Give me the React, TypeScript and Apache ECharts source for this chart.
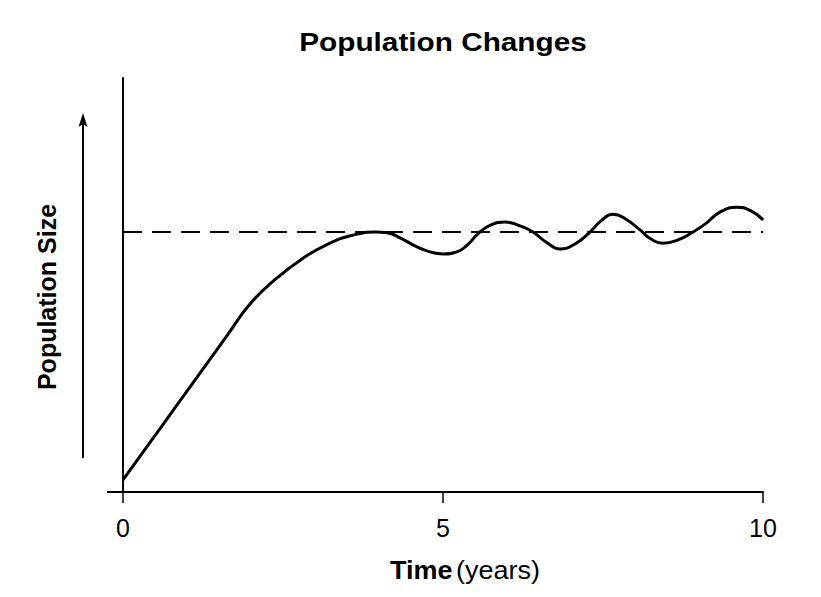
import React, { useEffect, useRef } from "react";
import * as echarts from "echarts";

const timeYears = [0, 0.406, 0.797, 1.203, 1.609, 2.0, 2.406, 2.797, 3.203, 3.609, 3.938, 4.125, 4.328, 4.594, 4.797, 5.0, 5.219, 5.375, 5.563, 5.75, 5.969, 6.203, 6.406, 6.609, 6.828, 7.063, 7.297, 7.469, 7.656, 7.859, 8.078, 8.25, 8.438, 8.672, 8.906, 9.094, 9.328, 9.594, 9.813, 10];
const populationSize = [2.9, 11.6, 20.0, 28.7, 37.4, 45.7, 51.7, 56.3, 59.9, 62.1, 62.8, 62.6, 61.4, 59.2, 58.0, 57.5, 58.0, 59.6, 62.6, 64.5, 65.2, 64.3, 62.8, 60.4, 58.7, 59.9, 62.8, 65.5, 67.1, 65.9, 63.3, 61.1, 60.1, 60.9, 62.8, 64.7, 67.6, 68.8, 67.9, 65.7];
const carryingCapacity = 62.8;
const xTicks = [0, 5, 10];

const FONT = "'Liberation Sans', Arial, Helvetica, sans-serif";

export default function App() {
  const ref = useRef<HTMLDivElement>(null);
  useEffect(() => {
    if (!ref.current) return;
    const chart = echarts.init(ref.current, null, { renderer: "svg" });
    const data = timeYears.map((t, i) => [t, populationSize[i]]);
    chart.setOption({
      animation: false,
      backgroundColor: "#fff",
      grid: { left: 123, right: 58, top: 78, bottom: 105 },
      xAxis: {
        type: "value",
        min: xTicks[0],
        max: xTicks[xTicks.length - 1],
        interval: 5,
        axisLine: { show: true, lineStyle: { color: "#000", width: 2 } },
        axisTick: { show: true, length: 11, lineStyle: { color: "#000", width: 1.5 } },
        axisLabel: { color: "#000", fontSize: 25, fontFamily: FONT, margin: 23 },
        splitLine: { show: false },
      },
      yAxis: {
        type: "value",
        min: 0,
        max: 100,
        axisLine: { show: true, lineStyle: { color: "#000", width: 2 } },
        axisTick: { show: false },
        axisLabel: { show: false },
        splitLine: { show: false },
      },
      series: [
        {
          type: "line",
          data,
          smooth: 0.5,
          smoothConstraint: false,
          symbol: "none",
          lineStyle: { color: "#000", width: 3 },
          markLine: {
            silent: true,
            symbol: "none",
            label: { show: false },
            lineStyle: { color: "#000", width: 2.2, type: [19, 10] },
            data: [{ yAxis: carryingCapacity }],
          },
        },
      ],
      graphic: [
        {
          type: "text",
          x: 443,
          y: 42,
          scaleX: 1.19,
          style: {
            text: "Population Changes",
            font: `bold 25px ${FONT}`,
            fill: "#000",
            align: "center",
            verticalAlign: "middle",
          },
        },
        {
          type: "line",
          shape: { x1: 107, y1: 492, x2: 123, y2: 492 },
          style: { stroke: "#000", lineWidth: 2 },
        },
        {
          type: "line",
          shape: { x1: 83, y1: 458, x2: 83, y2: 122 },
          style: { stroke: "#000", lineWidth: 2 },
        },
        {
          type: "polygon",
          shape: { points: [[83, 113], [78.5, 127], [83, 124], [87.5, 127]] },
          style: { fill: "#000" },
        },
        {
          type: "text",
          x: 47,
          y: 297,
          rotation: Math.PI / 2,
          style: {
            text: "Population Size",
            font: `bold 25px ${FONT}`,
            fill: "#000",
            align: "center",
            verticalAlign: "middle",
          },
        },
        {
          type: "text",
          x: 465,
          y: 570,
          scaleX: 1.08,
          style: {
            text: "{b|Time} {n|(years)}",
            align: "center",
            verticalAlign: "middle",
            rich: {
              b: { font: `bold 25px ${FONT}`, fill: "#000" },
              n: { font: `25px ${FONT}`, fill: "#000" },
            },
          },
        },
      ],
    });
    return () => chart.dispose();
  }, []);
  return <div ref={ref} style={{ position: "fixed", left: 0, top: 0, width: 821, height: 597 }} />;
}
